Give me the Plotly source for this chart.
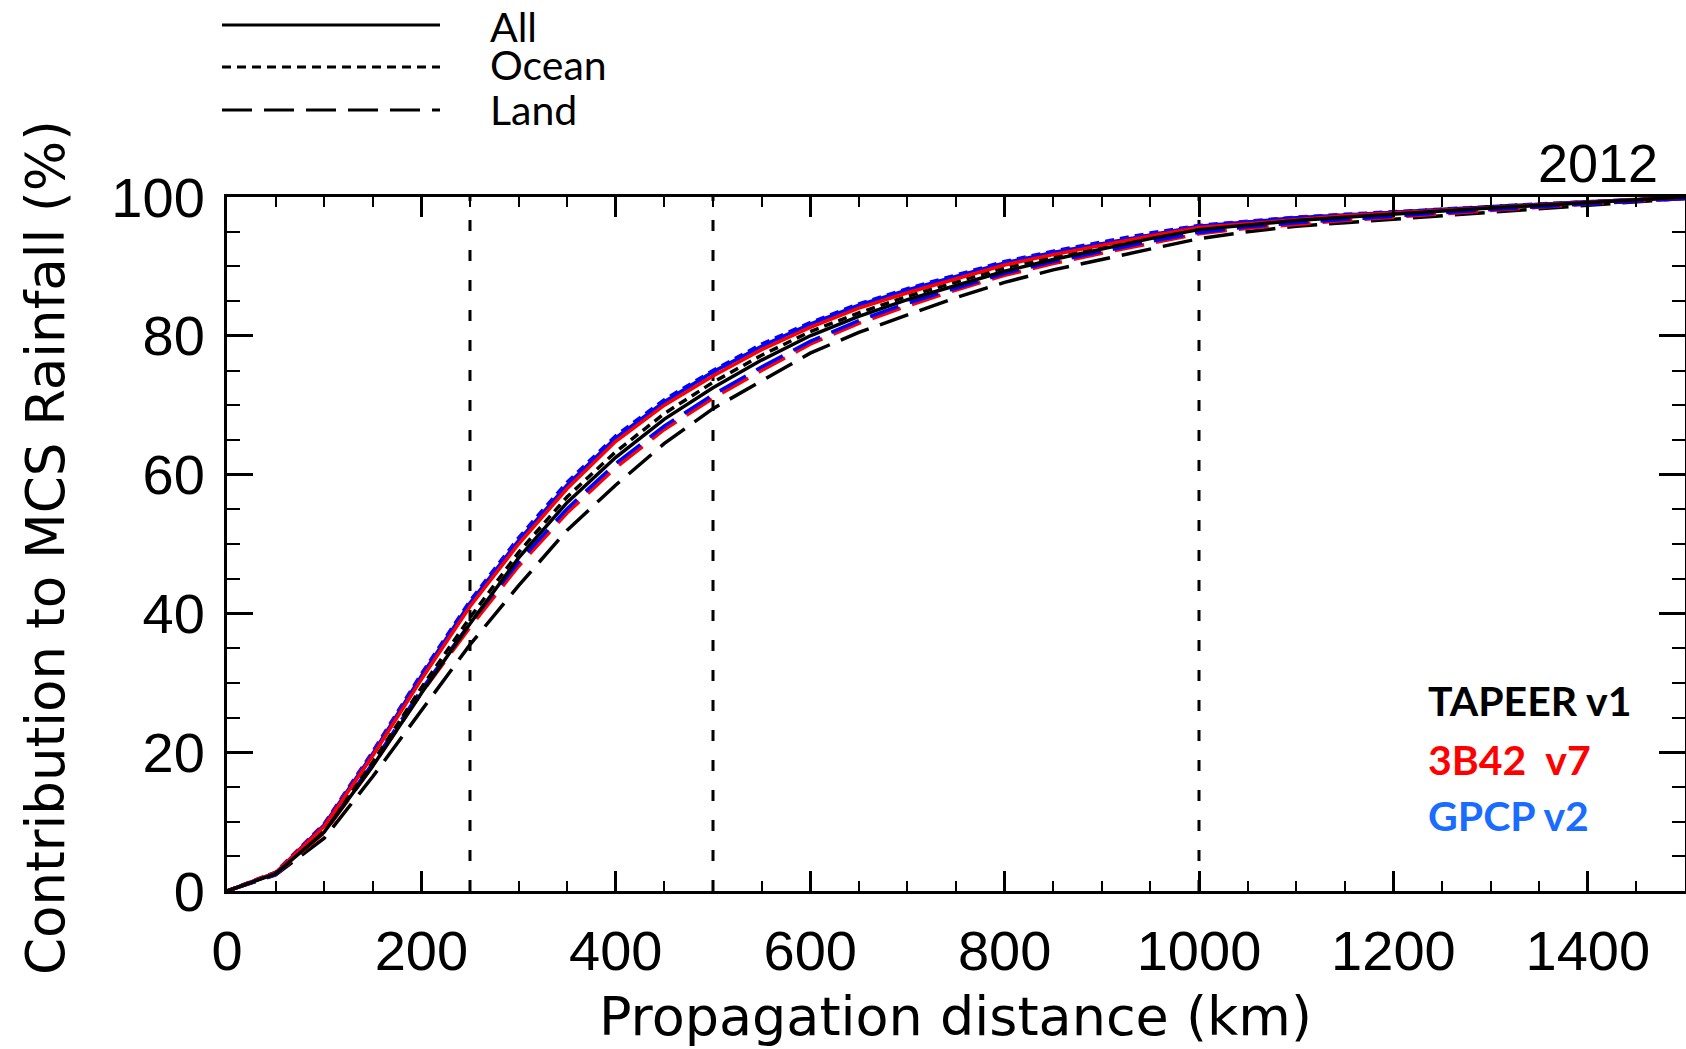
import plotly.graph_objects as go

# ---------------- data ----------------
distance_km = [0, 50, 100, 150, 200, 250, 300, 350, 400, 450, 500, 550, 600, 650, 700,
               750, 800, 850, 900, 950, 1000, 1050, 1100, 1150, 1200, 1250, 1300, 1350,
               1400, 1450, 1500]

tapeer_all = [0, 2.5, 8.5, 18.0, 28.5, 38.5, 48.0, 56.0, 62.5, 68.0, 72.5, 76.5, 80.0, 82.8, 85.2,
              87.3, 89.3, 91.0, 92.5, 94.0, 95.3, 96.0, 96.6, 97.1, 97.6, 98.0, 98.4, 98.8,
              99.2, 99.6, 100.0]
tapeer_ocean = [0, 2.6, 8.9, 18.6, 29.3, 39.4, 48.8, 56.8, 63.3, 68.8, 73.3, 77.2, 80.6, 83.3, 85.7,
                87.8, 89.8, 91.4, 92.9, 94.3, 95.6, 96.3, 96.9, 97.3, 97.8, 98.2, 98.6, 98.9,
                99.3, 99.6, 100.0]
tapeer_land = [0, 2.3, 7.6, 16.5, 26.0, 35.5, 44.0, 52.0, 58.5, 64.5, 69.5, 73.5, 77.5, 80.5, 83.0,
               85.5, 87.7, 89.5, 91.0, 92.5, 94.0, 95.0, 95.8, 96.3, 96.8, 97.3, 97.8, 98.3,
               98.8, 99.3, 99.8]

b42_all = [0, 2.6, 9.3, 19.5, 30.5, 41.0, 50.0, 58.0, 64.8, 70.0, 74.2, 78.0, 81.2, 84.0, 86.2,
           88.2, 90.2, 91.7, 93.1, 94.4, 95.6, 96.2, 96.8, 97.3, 97.7, 98.1, 98.5, 98.9,
           99.2, 99.6, 100.0]
b42_ocean = [0, 2.7, 9.6, 19.9, 31.0, 41.4, 50.5, 58.5, 65.2, 70.4, 74.6, 78.4, 81.6, 84.3, 86.5,
             88.5, 90.5, 92.0, 93.3, 94.6, 95.8, 96.4, 97.0, 97.4, 97.8, 98.2, 98.6, 99.0,
             99.3, 99.6, 100.0]
b42_land = [0, 2.4, 8.4, 18.0, 28.5, 38.0, 46.8, 54.5, 61.0, 66.5, 71.0, 75.0, 78.8, 81.8, 84.3,
            86.6, 88.7, 90.4, 91.9, 93.3, 94.7, 95.5, 96.1, 96.6, 97.1, 97.6, 98.1, 98.5,
            99.0, 99.4, 99.8]

gpcp_all = [0, 2.6, 9.5, 19.8, 31.0, 41.5, 50.5, 58.5, 65.3, 70.5, 74.8, 78.5, 81.7, 84.4, 86.6,
            88.6, 90.5, 92.0, 93.3, 94.6, 95.8, 96.4, 97.0, 97.4, 97.8, 98.2, 98.6, 99.0,
            99.3, 99.6, 100.0]
gpcp_ocean = [0, 2.7, 9.7, 20.1, 31.3, 41.8, 50.9, 58.9, 65.6, 70.8, 75.0, 78.8, 81.9, 84.6, 86.8,
              88.8, 90.7, 92.2, 93.5, 94.8, 95.9, 96.5, 97.1, 97.5, 97.9, 98.3, 98.7, 99.0,
              99.3, 99.6, 100.0]
gpcp_land = [0, 2.4, 8.7, 18.4, 29.0, 38.6, 47.4, 55.1, 61.6, 67.0, 71.5, 75.5, 79.2, 82.2, 84.7,
             86.9, 89.0, 90.7, 92.2, 93.6, 94.9, 95.7, 96.3, 96.8, 97.3, 97.7, 98.2, 98.6,
             99.0, 99.4, 99.8]

reference_distances = [250, 500, 1000]

x_ticks = [0, 200, 400, 600, 800, 1000, 1200, 1400]
y_ticks = [0, 20, 40, 60, 80, 100]

region_labels = ["All", "Ocean", "Land"]
dataset_labels = ["TAPEER v1", "3B42  v7", "GPCP v2"]
year_label = "2012"
x_title = "Propagation distance (km)"
y_title = "Contribution to MCS Rainfall (%)"

# ---------------- styles ----------------
W, H = 1686, 1049
L, R, T, B = 227, 1, 197, 158
PW, PH = W - L - R, H - T - B

DASH = {"All": "solid", "Ocean": "9px,6px", "Land": "30px,12px"}
COL = {"TAPEER": "black", "3B42": "#ff0000", "GPCP": "#0000ff"}
LABEL_COL = ["black", "#ff0000", "#1a6cff"]


def px(xp):
    return (xp - L) / PW


def py(yp):
    return (T + PH - yp) / PH


fig = go.Figure()

series = [
    ("TAPEER", "Land", tapeer_land), ("3B42", "Land", b42_land), ("GPCP", "Land", gpcp_land),
    ("GPCP", "Ocean", gpcp_ocean), ("3B42", "Ocean", b42_ocean), ("TAPEER", "Ocean", tapeer_ocean),
    ("GPCP", "All", gpcp_all), ("3B42", "All", b42_all), ("TAPEER", "All", tapeer_all),
]
for ds, reg, vals in series:
    fig.add_trace(go.Scatter(
        x=distance_km, y=vals, mode="lines", name=f"{ds} {reg}", showlegend=False,
        line=dict(color=COL[ds], width=3.5, dash=DASH[reg]),
    ))

for d in reference_distances:
    fig.add_shape(type="line", xref="x", yref="y", x0=d, x1=d, y0=0, y1=100,
                  line=dict(color="black", width=3, dash="11px,19px"), layer="below")

# legend (line samples + text)
leg_y = [25, 67, 110]
leg_text_y = [26, 64, 110]
for lab, yl, yt in zip(region_labels, leg_y, leg_text_y):
    fig.add_shape(type="line", xref="paper", yref="paper", x0=px(222), x1=px(440),
                  y0=py(yl), y1=py(yl), line=dict(color="black", width=3, dash=DASH[lab]))
    fig.add_annotation(xref="paper", yref="paper", x=px(488), y=py(yt), text=lab,
                       showarrow=False, xanchor="left", yanchor="middle",
                       font=dict(family="Lato", size=41, color="black"))

# dataset labels
for lab, c, yc in zip(dataset_labels, LABEL_COL, [700, 759, 815]):
    fig.add_annotation(xref="paper", yref="paper", x=px(1426), y=py(yc), text=f"<b>{lab}</b>",
                       showarrow=False, xanchor="left", yanchor="middle",
                       font=dict(family="Lato", size=41, color=c))

# year
fig.add_annotation(xref="paper", yref="paper", x=px(1660), y=py(163), text=year_label,
                   showarrow=False, xanchor="right", yanchor="middle",
                   font=dict(family="Liberation Sans", size=54, color="black"))

# axis titles
fig.add_annotation(xref="paper", yref="paper", x=px(955), y=py(1016), text=x_title,
                   showarrow=False, xanchor="center", yanchor="middle",
                   font=dict(family="DejaVu Sans", size=54, color="black"))
fig.add_annotation(xref="paper", yref="paper", x=px(45), y=py(548), text=y_title,
                   showarrow=False, xanchor="center", yanchor="middle", textangle=-90,
                   font=dict(family="DejaVu Sans", size=53, color="black"))

axis_common = dict(
    showgrid=False, zeroline=False, showline=True, linecolor="black", linewidth=3,
    ticks="inside", tickcolor="black", tickwidth=3, mirror="allticks",
    tickfont=dict(family="Liberation Sans", size=56, color="black"),
)
fig.update_xaxes(range=[0, 1500], tickvals=x_ticks, ticklen=20, ticklabelstandoff=9,
                 minor=dict(dtick=50, tick0=0, ticks="inside", ticklen=10, tickwidth=2,
                            tickcolor="black", showgrid=False),
                 **axis_common)
fig.update_yaxes(range=[0, 100], tickvals=y_ticks, ticklen=26, ticklabelstandoff=8,
                 minor=dict(dtick=5, tick0=0, ticks="inside", ticklen=13, tickwidth=2,
                            tickcolor="black", showgrid=False),
                 **axis_common)

fig.update_layout(
    width=W, height=H, margin=dict(l=L, r=R, t=T, b=B, autoexpand=False),
    plot_bgcolor="white", paper_bgcolor="white", showlegend=False,
)

fig.write_html("out.html")
